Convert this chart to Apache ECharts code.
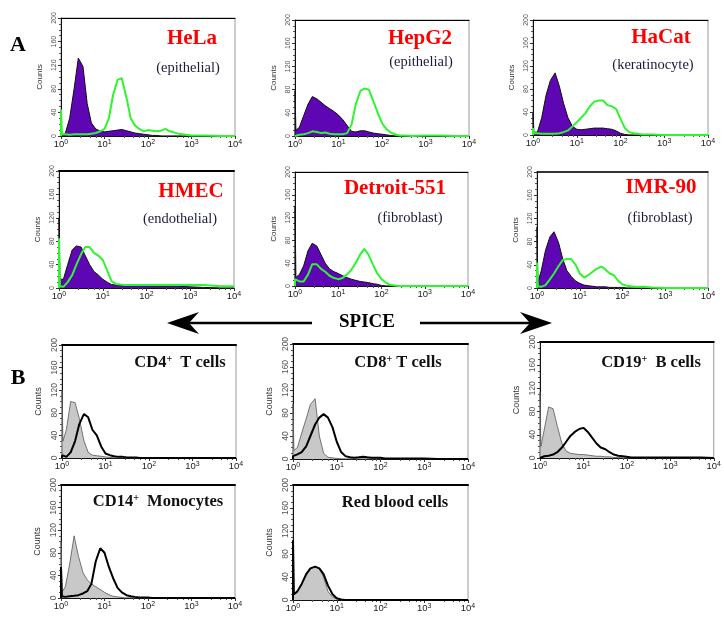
<!DOCTYPE html>
<html><head><meta charset="utf-8">
<script src="https://cdn.jsdelivr.net/npm/echarts@6/dist/echarts.min.js"></script>
<style>html,body{margin:0;padding:0;background:#fff}#c{width:724px;height:630px}</style>
</head><body><div id="c"></div>
<script>
// fluorescence channel sample points (log scale, 10^0 .. 10^4)
const xs = [1, 1.05, 1.26, 1.58, 2, 2.5, 3.2, 4, 5, 6.3, 8, 10, 12.6, 15.8, 20, 25, 32, 40, 50, 63, 80, 100, 126, 158, 200, 250, 316, 500, 1000, 2000, 5000, 10000];
const xTicks = [1, 10, 100, 1000, 10000];
const yTicks = [0, 40, 80, 120, 160, 200];

// Panel A: purple = control, green = SPICE
const helaControl   = [0,0,5,30,80,132,118,55,22,12, 8,7,8,9,10,11,9,7,5,4, 3,2,1,1,0,0,0,0,0,0, 0,0];
const helaSpice     = [45,3,3,2,3,3,3,3,4,5, 8,12,30,70,95,98,65,30,18,12, 8,10,9,8,9,12,8,4,1,1, 0,0];
const hepg2Control  = [78,10,15,35,55,68,64,58,52,47, 42,36,28,18,8,7,9,9,7,5, 4,3,2,1,0,0,0,0,0,0, 0,0];
const hepg2Spice    = [3,2,2,3,5,8,7,5,6,4, 3,3,3,5,20,55,78,82,80,60, 40,22,12,6,3,1,1,0,1,1, 0,0];
const hacatControl  = [38,5,5,30,70,95,108,85,55,30, 15,10,9,10,11,12,12,12,11,10, 7,3,1,0,0,0,0,0,0,0, 0,0];
const hacatSpice    = [12,3,3,2,2,2,2,3,5,8, 15,22,30,38,50,58,60,60,52,50, 45,28,12,5,3,2,1,1,0,0, 0,0];
const hmecControl   = [120,15,15,40,65,72,70,55,40,28, 22,15,10,6,5,4,4,4,4,4, 4,4,3,3,3,3,3,3,2,1, 0,0];
const hmecSpice     = [85,3,2,10,22,40,58,70,70,60, 55,48,30,12,7,6,5,5,5,5, 5,5,5,5,5,5,5,5,5,5, 3,3];
const detroitControl= [140,15,20,35,62,75,70,55,40,30, 25,22,18,15,12,10,8,7,6,4, 3,1,0,0,0,0,0,0,0,0, 0,0];
const detroitSpice  = [12,10,8,8,20,38,38,30,25,18, 14,12,14,20,28,40,55,65,55,38, 22,12,6,2,1,0,0,0,0,0, 0,0];
const imrControl    = [105,10,30,65,88,97,78,50,30,20, 12,8,5,4,3,2,2,2,1,1, 1,1,0,0,0,0,0,0,0,0, 0,0];
const imrSpice      = [44,3,2,5,15,25,38,48,50,50, 40,25,18,22,28,33,37,32,25,22, 12,6,4,3,2,2,2,1,0,0, 0,0];

// Panel B: grey = control, black = SPICE
const cd4Control  = [120,30,50,100,98,70,30,10,5,4, 3,2,1,0,0,0,0,0,0,0, 0,0,0,0,0,0,0,0,0,0, 0,0];
const cd4Spice    = [5,2,2,10,30,60,78,72,50,40, 20,8,5,3,2,2,1,1,1,0, 0,0,0,0,0,0,0,0,0,0, 0,0];
const cd8Control  = [96,15,20,45,70,95,105,40,10,3, 2,1,0,0,0,0,0,0,0,0, 0,0,0,0,0,0,0,0,0,0, 0,0];
const cd8Spice    = [5,5,8,12,22,40,60,72,78,72, 55,30,12,5,3,2,3,4,3,2, 2,2,1,1,1,1,1,1,1,0, 0,0];
const cd19Control = [114,20,50,88,85,55,25,12,8,7, 6,6,5,4,3,3,2,2,1,1, 0,0,0,0,0,0,0,0,0,0, 0,0];
const cd19Spice   = [3,3,3,4,6,10,18,28,38,45, 50,52,45,35,25,18,15,10,6,4, 3,2,1,1,1,1,1,1,1,1, 1,0];
const cd14Control = [100,10,20,60,110,75,45,32,25,20, 15,10,6,3,2,1,0,0,0,0, 0,0,0,0,0,0,0,0,0,0, 0,0];
const cd14Spice   = [55,3,2,3,4,5,8,12,25,65, 88,80,55,35,18,10,5,3,2,1, 1,1,0,0,0,0,0,0,0,0, 0,0];
const rbcControl  = [8,10,15,28,42,55,58,55,40,15, 5,2,0,0,0,0,0,0,0,0, 0,0,0,0,0,0,0,0,0,0, 0,0];
const rbcSpice    = [104,10,15,28,45,55,58,55,45,25, 10,3,1,0,0,0,0,0,0,0, 0,0,0,0,0,0,0,0,0,0, 0,0];

const cellNames = ['HeLa','HepG2','HaCat','HMEC','Detroit-551','IMR-90'];
const cellTypes = ['(epithelial)','(epithelial)','(keratinocyte)','(endothelial)','(fibroblast)','(fibroblast)'];
const bloodNames = [['CD4','  T cells'],['CD8',' T cells'],['CD19','  B cells'],['CD14','  Monocytes'],['Red blood cells','']];

// layout (pixels)
const panels = [
  {kind:'A', ctl:helaControl,    sp:helaSpice,    box:[61,18,174,118], topW:1, t:[192,39], s:[188,68], name:0},
  {kind:'A', ctl:hepg2Control,   sp:hepg2Spice,   box:[295,20,174,116], topW:1, t:[420,39], s:[421,62], name:1},
  {kind:'A', ctl:hacatControl,   sp:hacatSpice,   box:[533,20,175,115], topW:1, t:[661,38], s:[653,65], name:2},
  {kind:'A', ctl:hmecControl,    sp:hmecSpice,    box:[59,171,175,117], topW:2, t:[191,192], s:[180,219], name:3},
  {kind:'A', ctl:detroitControl, sp:detroitSpice, box:[295,172,173,114], topW:1, t:[395,189], s:[410,218], name:4},
  {kind:'A', ctl:imrControl,     sp:imrSpice,     box:[537,172,171,116], topW:1.5, t:[661,188], s:[660,218], name:5},
  {kind:'B', ctl:cd4Control,  sp:cd4Spice,  box:[62,345,174,113], topW:2, t:[180,363], name:0},
  {kind:'B', ctl:cd8Control,  sp:cd8Spice,  box:[293,344,175,115], topW:2, t:[398,363], name:1},
  {kind:'B', ctl:cd19Control, sp:cd19Spice, box:[540,342,175,116], topW:2, t:[651,363], name:2},
  {kind:'B', ctl:cd14Control, sp:cd14Spice, box:[61,485,174,113], topW:2, t:[158,502], name:3},
  {kind:'B', ctl:rbcControl,  sp:rbcSpice,  box:[293,485,175,115], topW:2, t:[395,503], name:4}
];

const toData = ys => [[xs[0], 0]].concat(xs.map((x, i) => [x, ys[i]]));
const supLabel = v => '{b|10}{e|' + Math.round(Math.log10(v)) + '}';

const grid = [], xAxis = [], yAxis = [], series = [], graphic = [];
panels.forEach((p, i) => {
  const [l, t, w, h] = p.box;
  const big = p.kind === 'B';
  grid.push({left:l, top:t, width:w, height:h, show:true, borderColor:'#9a9a9a', borderWidth:1, backgroundColor:'#fff'});
  xAxis.push({
    type:'log', gridIndex:i, min:xTicks[0], max:xTicks[xTicks.length-1], logBase:10,
    axisLine:{lineStyle:{color:'#111', width:1}},
    axisTick:{show:true, length:3, lineStyle:{color:'#333'}},
    minorTick:{show:true, splitNumber:5, length:2, lineStyle:{color:'#555'}},
    splitLine:{show:false},
    axisLabel:{margin:3, formatter:supLabel, color:'#222',
      rich:{b:{fontSize:9.5, fontFamily:'Liberation Sans', color:'#222'},
            e:{fontSize:7, fontFamily:'Liberation Sans', color:'#222', verticalAlign:'top'}}}
  });
  xAxis.push({
    type:'log', gridIndex:i, position:'top', min:xTicks[0], max:xTicks[xTicks.length-1],
    axisLine:{lineStyle:{color:'#000', width:p.topW}}, axisTick:{show:false}, axisLabel:{show:false}, splitLine:{show:false}
  });
  yAxis.push({
    type:'value', gridIndex:i, min:yTicks[0], max:yTicks[yTicks.length-1], interval:40,
    name:'Counts', nameLocation:'middle', nameGap:big ? 19 : 17, nameRotate:90,
    nameTextStyle:{fontSize:big ? 9 : 8, fontFamily:'Liberation Sans', color:'#333'},
    axisLine:{show:true, lineStyle:{color:'#111', width:1}},
    axisTick:{show:true, length:3, lineStyle:{color:'#333'}},
    minorTick:{show:true, splitNumber:4, length:2, lineStyle:{color:'#555'}},
    splitLine:{show:false},
    axisLabel:{rotate:90, fontSize:big ? 8.5 : 7, fontFamily:'Liberation Sans', color:'#555', margin:3}
  });
  const xi = i * 2;
  if (p.kind === 'A') {
    series.push({type:'line', xAxisIndex:xi, yAxisIndex:i, data:toData(p.ctl), symbol:'none',
      lineStyle:{color:'#111', width:1}, areaStyle:{color:'#5e05b4', opacity:1}, z:2});
    series.push({type:'line', xAxisIndex:xi, yAxisIndex:i, data:toData(p.sp), symbol:'none',
      lineStyle:{color:'#2ef52e', width:2}, z:3});
    graphic.push({type:'text', x:p.t[0], y:p.t[1], z:10, style:{text:cellNames[p.name], fill:'#ff0000',
      font:'bold 21px "Liberation Serif"', textAlign:'center', textVerticalAlign:'middle'}});
    graphic.push({type:'text', x:p.s[0], y:p.s[1], z:10, style:{text:cellTypes[p.name], fill:'#1a1a3a',
      font:'14.5px "Liberation Serif"', textAlign:'center', textVerticalAlign:'middle'}});
  } else {
    series.push({type:'line', xAxisIndex:xi, yAxisIndex:i, data:toData(p.ctl), symbol:'none',
      lineStyle:{color:'#555', width:0.8}, areaStyle:{color:'#c8c8c8', opacity:1}, z:2});
    series.push({type:'line', xAxisIndex:xi, yAxisIndex:i, data:toData(p.sp), symbol:'none',
      lineStyle:{color:'#000', width:2}, z:3});
    const nm = bloodNames[p.name];
    const txt = nm[1] === '' ? '{a|' + nm[0] + '}' : '{a|' + nm[0] + '}{s|+}{a|' + nm[1] + '}';
    graphic.push({type:'text', x:p.t[0], y:p.t[1], z:10, style:{text:txt, textAlign:'center', textVerticalAlign:'middle',
      rich:{a:{fontSize:16.5, fontWeight:'bold', fontFamily:'Liberation Serif', fill:'#111'},
            s:{fontSize:10, fontWeight:'bold', fontFamily:'Liberation Serif', fill:'#111', verticalAlign:'top'}}}});
  }
});

// panel letters, SPICE label and arrows
graphic.push({type:'text', x:18, y:45, style:{text:'A', font:'bold 22px "Liberation Serif"', fill:'#000', textAlign:'center', textVerticalAlign:'middle'}});
graphic.push({type:'text', x:18, y:378, style:{text:'B', font:'bold 22px "Liberation Serif"', fill:'#000', textAlign:'center', textVerticalAlign:'middle'}});
graphic.push({type:'text', x:367, y:322, style:{text:'SPICE', font:'bold 19px "Liberation Serif"', fill:'#000', textAlign:'center', textVerticalAlign:'middle'}});
graphic.push({type:'line', shape:{x1:186, y1:323, x2:312, y2:323}, style:{stroke:'#000', lineWidth:2.5}});
graphic.push({type:'polygon', shape:{points:[[167,323],[199,312],[189,323],[199,334]]}, style:{fill:'#000'}});
graphic.push({type:'line', shape:{x1:420, y1:323, x2:533, y2:323}, style:{stroke:'#000', lineWidth:2.5}});
graphic.push({type:'polygon', shape:{points:[[552,323],[520,312],[530,323],[520,334]]}, style:{fill:'#000'}});

const chart = echarts.init(document.getElementById('c'), null, {renderer:'canvas'});
chart.setOption({backgroundColor:'#fff', animation:false, grid, xAxis, yAxis, series, graphic});
</script></body></html>
